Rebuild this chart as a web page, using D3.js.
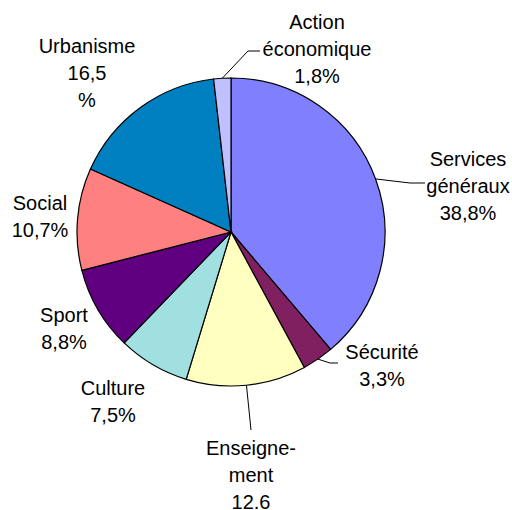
<!DOCTYPE html>
<html>
<head>
<meta charset="utf-8">
<script src="https://cdn.jsdelivr.net/npm/d3@7"></script>
<style>
  body { margin: 0; background: #fff; }
  text { font-family: "Liberation Sans", Arial, sans-serif; font-size: 20px; fill: #000; }
</style>
</head>
<body>
<div id="chart"></div>
<script>
// Budget shares, clockwise from the top
const categories = ["Services généraux", "Sécurité", "Enseignement", "Culture", "Sport", "Social", "Urbanisme", "Action économique"];
const values = [38.8, 3.3, 12.6, 7.5, 8.8, 10.7, 16.5, 1.8];
const labels = [
  ["Services", "généraux", "38,8%"],
  ["Sécurité", "3,3%"],
  ["Enseigne-", "ment", "12.6"],
  ["Culture", "7,5%"],
  ["Sport", "8,8%"],
  ["Social", "10,7%"],
  ["Urbanisme", "16,5", "%"],
  ["Action", "économique", "1,8%"]
];
const colors = ["#8080ff", "#802060", "#ffffc0", "#a0e0e0", "#600080", "#ff8080", "#0080c0", "#c0c0ff"];

const width = 512;
const height = 510;
const cx = 231, cy = 232, radius = 154;
const lineGap = 26.8;

// label placement relative to pie centre (x, y of first line centre)
const labelLayout = [
  { x: 237, y: -73, leader: [[179, -49], [194, -49]] },
  { x: 151, y: 120, leader: [[99, 131], [107, 131]] },
  { x: 20, y: 216, leader: [[20, 198]] },
  { x: -118, y: 156 },
  { x: -167, y: 83 },
  { x: -191, y: -29 },
  { x: -144, y: -186 },
  { x: 86, y: -210, leader: [[17, -181], [29, -181]] }
];

const data = categories.map((c, i) => ({ name: c, value: values[i], lines: labels[i], color: colors[i], layout: labelLayout[i] }));

const svg = d3.select("#chart")
  .append("svg")
  .attr("width", width)
  .attr("height", height);

const g = svg.append("g").attr("transform", `translate(${cx},${cy})`);

const pie = d3.pie().sort(null).value(d => d.value).startAngle(0).endAngle(2 * Math.PI);
const arc = d3.arc().innerRadius(0).outerRadius(radius);
const arcs = pie(data);

// Slices
g.selectAll("path.slice")
  .data(arcs)
  .enter()
  .append("path")
  .attr("class", "slice")
  .attr("d", arc)
  .attr("fill", d => d.data.color)
  .attr("stroke", "#000")
  .attr("stroke-width", 1.2);

// Leader lines
const line = d3.line();
g.selectAll("path.leader")
  .data(arcs.filter(d => d.data.layout.leader))
  .enter()
  .append("path")
  .attr("class", "leader")
  .attr("d", d => {
    const a = (d.startAngle + d.endAngle) / 2;
    const start = [radius * Math.sin(a), -radius * Math.cos(a)];
    return line([start].concat(d.data.layout.leader));
  })
  .attr("fill", "none")
  .attr("stroke", "#000")
  .attr("stroke-width", 1);

// Labels
const lbl = g.selectAll("text.label")
  .data(arcs)
  .enter()
  .append("text")
  .attr("class", "label")
  .attr("text-anchor", "middle");

lbl.selectAll("tspan")
  .data(d => d.data.lines.map((t, i) => ({ t, i, lay: d.data.layout })))
  .enter()
  .append("tspan")
  .attr("x", d => d.lay.x)
  .attr("y", d => d.lay.y + d.i * lineGap)
  .attr("dy", "0.36em")
  .text(d => d.t);
</script>
</body>
</html>
